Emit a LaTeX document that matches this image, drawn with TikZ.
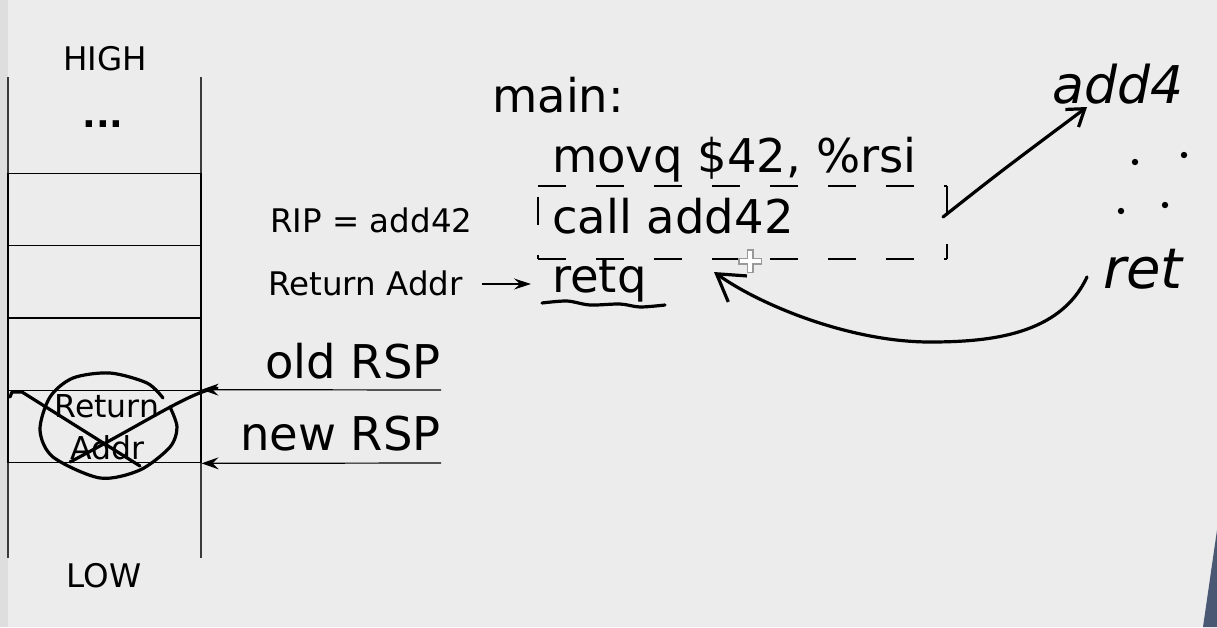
\documentclass[tikz,border=0pt]{standalone}
\usepackage{fontspec}
\setmainfont{DejaVu Sans}
\usetikzlibrary{arrows.meta}
\definecolor{slidebg}{HTML}{ECECEC}
\definecolor{stripbg}{HTML}{DEDEDE}
\definecolor{stackline}{HTML}{3A3A3A}
\definecolor{coat}{HTML}{4B5873}
\tikzset{
  small/.style={font=\fontsize{32.5}{39}\selectfont, inner sep=0pt},
  big/.style={font=\fontsize{46.5}{56}\selectfont, inner sep=0pt},
  hand/.style={line width=3.2pt, line cap=round, line join=round, black},
  handtext/.style={font=\fontsize{52}{62}\selectfont\itshape, inner sep=0pt},
  ptr/.style={line width=1.2pt, -{Stealth[length=17pt,width=12pt,inset=6pt]}},
  cell/.style={draw=black, line width=1.2pt, minimum width=193pt,
    minimum height=72.5pt, inner sep=0pt},
  dbox/.style={line width=1.6pt, dash pattern=on 28pt off 30pt},
}
\begin{document}
\begin{tikzpicture}[x=1pt,y=-1pt]
  % slide background
  \useasboundingbox (0,0) rectangle (1217,627);
  \clip (0,0) rectangle (1217,627);
  \fill[slidebg] (0,0) rectangle (1217,627);
  \fill[stripbg] (0,0) rectangle (8,627);
  \fill[coat] (1217,530) -- (1203,627) -- (1217,627) -- cycle;

  % stack
  \draw[stackline, line width=1.2pt] (8,77) -- (8,558) (201,77) -- (201,558);
  \foreach \y [count=\i] in {209.5,282,354,426.5}
    \node[cell] (cell\i) at (104.5,\y) {};
  \node[small, anchor=base] (high) at (105,70) {HIGH};
  \node[font=\fontsize{36}{40}\selectfont\bfseries, inner sep=0pt, anchor=base] (dots) at (103,127) {...};
  \node[small, anchor=base] (low) at (104,587) {LOW};
  \node[font=\fontsize{31.5}{38}\selectfont, inner sep=0pt, anchor=base] (ret1) at (107,417) {Return};
  \node[font=\fontsize{31.5}{38}\selectfont, inner sep=0pt, anchor=base] (ret2) at (107,459) {Addr};

  % stack pointers
  \coordinate (oldend) at (441,390);
  \coordinate (newend) at (441,463);
  \draw[ptr] (oldend) -- (cell4.north east);
  \draw[ptr] (newend) -- (cell4.south east);
  \node[big, anchor=base east] (oldrsp) at (441,378) {old RSP};
  \node[big, anchor=base east] (newrsp) at (441,450) {new RSP};

  % code
  \node[small, anchor=base west] (rip) at (270,232) {RIP = add42};
  \node[small, anchor=base west] (raddr) at (268,295) {Return Addr};
  \node[big, anchor=base west] (main) at (492,112) {main:};
  \node[big, anchor=base west] (movq) at (552,172) {movq \$42, \%rsi};
  \node[big, anchor=base west] (call) at (552,233) {call add42};
  \node[big, anchor=base west] (retq) at (552,292) {retq};
  \coordinate (rtail) at (482,284);
  \coordinate (rtip) at (531,284);
  \draw[line width=1.2pt, -{Stealth[length=17pt,width=11pt,inset=6pt]}] (rtail) -- (rtip);
  \draw[dbox] (538,186) -- (947,186);
  \draw[dbox] (538,259) -- (947,259);
  \draw[dbox] (947,186) -- (947,259);
  \draw[dbox, dash phase=47pt] (538,186) -- (538,259);

  % mouse cursor
  \draw[gray!80, line width=7pt] (738,261) -- (762,261) (750,249) -- (750,273);
  \draw[white, line width=4pt] (739.5,261) -- (760.5,261) (750,250.5) -- (750,271.5);

  % handwriting
  \draw[hand] plot[smooth] coordinates {(542,303) (567,301) (590,305) (620,304) (640,307) (665,305)};
  \draw[hand, -{Straight Barb[length=16pt,width=22pt]}]
    (943,217) .. controls (1000,172) .. (1087,107);
  \node[handtext, anchor=base west] (add) at (1052,103) {add4};
  \foreach \p in {(1135,162),(1184,155),(1121,211),(1165,205)}
    \fill \p circle (3.2);
  \node[handtext, font=\fontsize{56}{66}\selectfont\itshape, anchor=base west] (hret) at (1103,288) {ret};
  \draw[hand, -{Straight Barb[length=26pt,width=32pt]}]
    (1087,277) .. controls (1060,335) and (990,342) .. (930,342)
    .. controls (850,342) and (760,305) .. (714,272);
  \draw[hand] plot[smooth] coordinates {(163,398) (147,383) (110,373) (73,378)
    (50,397) (40,430) (53,457) (100,478) (140,470) (170,447) (177,427) (170,407)};
  \draw[hand] (10,397) -- (12,392) -- (22,392) -- (140,466);
  \draw[hand] (70,462) .. controls (150,420) and (190,392) .. (217,388);
\end{tikzpicture}
\end{document}
